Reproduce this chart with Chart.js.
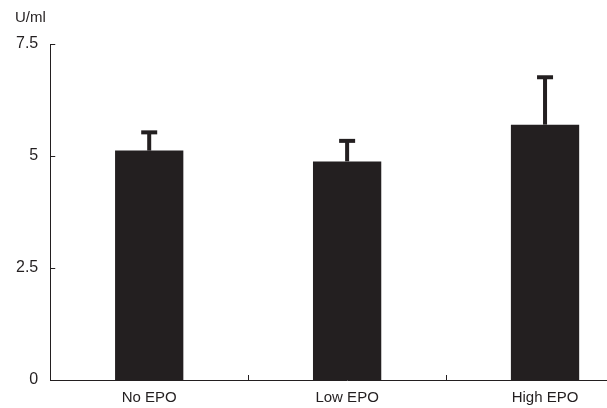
<!DOCTYPE html>
<html>
<head>
<meta charset="utf-8">
<script src="https://cdn.jsdelivr.net/npm/chart.js@4/dist/chart.umd.min.js"></script>
<style>
  html, body { margin: 0; padding: 0; background: #fff; overflow: hidden; }
  #wrap { width: 650px; height: 420px; }
</style>
</head>
<body>
<div id="wrap"><canvas id="myChart"></canvas></div>
<script>
// Daten
const groups = ["No EPO", "Low EPO", "High EPO"];
const means = [5.12, 4.88, 5.70];
const upperErrors = [0.43, 0.48, 1.08];
const yTicks = [0, 2.5, 5, 7.5];

const ink = "#231f20";

// Fehlerbalken (nur nach oben), Achsenstriche und Einheit zeichnen
const extras = {
  id: "extras",
  afterDatasetsDraw(chart) {
    const ctx = chart.ctx;
    const x = chart.scales.x;
    const y = chart.scales.y;
    ctx.save();
    ctx.fillStyle = ink;
    ctx.strokeStyle = ink;
    means.forEach((m, i) => {
      const cx = x.getPixelForValue(i);
      const top = y.getPixelForValue(m + upperErrors[i]);
      const base = y.getPixelForValue(m);
      ctx.fillRect(cx - 2, top, 4, base - top);
      ctx.fillRect(cx - 8, top - 1, 16, 4);
    });
    // Striche nach innen an der y-Achse
    ctx.lineWidth = 1;
    yTicks.forEach(v => {
      const py = Math.round(y.getPixelForValue(v)) + 0.5;
      ctx.beginPath();
      ctx.moveTo(x.left, py);
      ctx.lineTo(x.left + 5, py);
      ctx.stroke();
    });
    // Striche zwischen den Gruppen auf der x-Achse
    for (let i = 0; i < groups.length - 1; i++) {
      const px = Math.round(x.getPixelForValue(i + 0.5)) + 0.5;
      ctx.beginPath();
      ctx.moveTo(px, y.bottom);
      ctx.lineTo(px, y.bottom - 5);
      ctx.stroke();
    }
    ctx.font = "15px 'Liberation Sans', Arial, sans-serif";
    ctx.textAlign = "left";
    ctx.textBaseline = "middle";
    ctx.fillText("U/ml", 15, 18);
    ctx.restore();
  }
};

new Chart(document.getElementById("myChart").getContext("2d"), {
  type: "bar",
  data: {
    labels: groups,
    datasets: [{
      data: means,
      backgroundColor: ink,
      borderWidth: 0,
      categoryPercentage: 1,
      barPercentage: 0.345
    }]
  },
  options: {
    responsive: true,
    maintainAspectRatio: false,
    animation: false,
    layout: { padding: { top: 44, left: 4, right: 6, bottom: 4 } },
    plugins: { legend: { display: false }, tooltip: { enabled: false } },
    scales: {
      x: {
        grid: { display: false, drawTicks: false },
        border: { display: true, color: ink, width: 1 },
        ticks: {
          color: ink,
          padding: 9,
          font: { family: "'Liberation Sans', Arial, sans-serif", size: 15 }
        }
      },
      y: {
        min: 0,
        max: 7.5,
        afterBuildTicks(scale) {
          scale.ticks = yTicks.map(v => ({ value: v }));
        },
        grid: { display: false, drawTicks: false },
        border: { display: true, color: ink, width: 1 },
        ticks: {
          color: ink,
          padding: 12,
          font: { family: "'Liberation Sans', Arial, sans-serif", size: 16 },
          callback: v => String(v)
        }
      }
    }
  },
  plugins: [extras]
});
</script>
</body>
</html>
